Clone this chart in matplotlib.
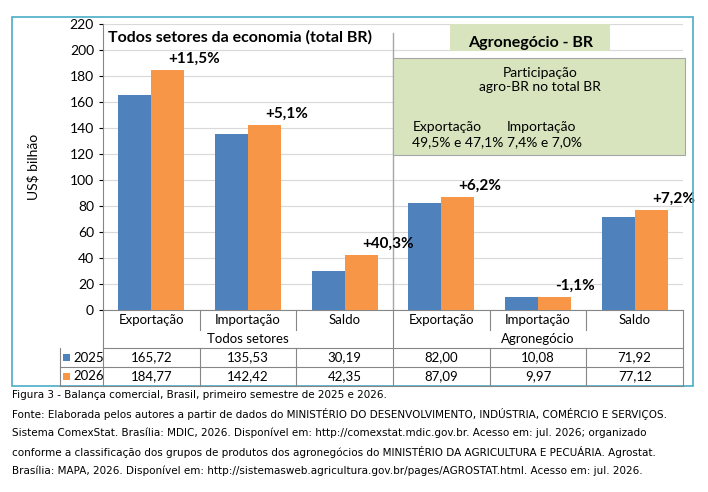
import numpy as np
import matplotlib.pyplot as plt
from matplotlib.patches import Rectangle

plt.rcParams['font.family'] = ['Lato', 'DejaVu Sans']

categories = ['Exportação', 'Importação', 'Saldo', 'Exportação', 'Importação', 'Saldo']
groups = ['Todos setores', 'Agronegócio']
v2025 = [165.72, 135.53, 30.19, 82.00, 10.08, 71.92]
v2026 = [184.77, 142.42, 42.35, 87.09, 9.97, 77.12]
variation = ['+11,5%', '+5,1%', '+40,3%', '+6,2%', '-1,1%', '+7,2%']
caption = [
    'Figura 3 - Balança comercial, Brasil, primeiro semestre de 2025 e 2026.',
    'Fonte: Elaborada pelos autores a partir de dados do MINISTÉRIO DO DESENVOLVIMENTO, INDÚSTRIA, COMÉRCIO E SERVIÇOS.',
    'Sistema ComexStat. Brasília: MDIC, 2026. Disponível em: http://comexstat.mdic.gov.br. Acesso em: jul. 2026; organizado',
    'conforme a classificação dos grupos de produtos dos agronegócios do MINISTÉRIO DA AGRICULTURA E PECUÁRIA. Agrostat.',
    'Brasília: MAPA, 2026. Disponível em: http://sistemasweb.agricultura.gov.br/pages/AGROSTAT.html. Acesso em: jul. 2026.',
]

W, H = 708, 492
blue = '#4F81BD'
orange = '#F79646'
green = '#D7E4BD'
fig = plt.figure(figsize=(W/100, H/100), dpi=100)

def fx(px): return px / W
def fy(py): return 1 - py / H

# outer frame
fig.patches.append(Rectangle((fx(12), fy(386)), fx(693)-fx(12), fy(17)-fy(386),
                             transform=fig.transFigure, fill=False, ec='#4BACC6', lw=1.2))

L, R, T, B = 103, 683, 24, 310
ax = fig.add_axes([fx(L), fy(B), fx(R)-fx(L), fy(T)-fy(B)])
x = np.arange(6) + 0.5
bw = 0.34
ax.bar(x - bw/2, v2025, bw, color=blue, zorder=3)
ax.bar(x + bw/2, v2026, bw, color=orange, zorder=3)
for xi, v, t in zip(x, v2026, variation):
    ax.text(xi + bw/2 + 0.01, v + 3, t, ha='left', va='bottom', fontsize=11, fontweight='bold', zorder=6)
ax.set_xlim(0, 6)
ax.set_ylim(0, 220)
ax.set_yticks(range(0, 221, 20))
ax.tick_params(axis='y', labelsize=10, length=3)
ax.set_xticks([])
ax.yaxis.grid(True, color='#D9D9D9', lw=0.8, zorder=0)
for s in ['top', 'right']:
    ax.spines[s].set_visible(False)
ax.spines['left'].set_color('#868686')
ax.spines['bottom'].set_color('#868686')
ax.set_ylabel('US$ bilhão', fontsize=10, labelpad=22)
ax.plot([3, 3], [0, 213], color='#A6A6A6', lw=1, zorder=2)

ax.text(0.05, 210, 'Todos setores da economia (total BR)', fontsize=11.5, fontweight='bold', va='center', zorder=5)
ax.add_patch(Rectangle((3.59, 199), 1.65, 21, fc=green, ec='none', zorder=4, clip_on=False))
ax.text(4.42, 205, 'Agronegócio - BR', ha='center', fontsize=11.5, fontweight='bold', va='center', zorder=5)
ax.add_patch(Rectangle((3.0, 119), 3.02, 75, fc=green, ec='#A6A6A6', lw=0.8, zorder=4, clip_on=False))
ax.text(4.52, 177, 'Participação\nagro-BR no total BR', ha='center', va='center', fontsize=10, zorder=5, linespacing=1.15)
ax.text(3.2, 135, 'Exportação\n49,5% e 47,1%', ha='left', va='center', fontsize=10, zorder=5, linespacing=1.3)
ax.text(4.18, 135, 'Importação\n7,4% e 7,0%', ha='left', va='center', fontsize=10, zorder=5, linespacing=1.3)

# data table below the axes
lc = '#868686'
colx = [L + i * (R - L) / 6 for i in range(7)]
def hline(x0, x1, y):
    fig.add_artist(plt.Line2D([fx(x0), fx(x1)], [fy(y), fy(y)], color=lc, lw=0.8))
def vline(xp, y0, y1):
    fig.add_artist(plt.Line2D([fx(xp), fx(xp)], [fy(y0), fy(y1)], color=lc, lw=0.8))
hline(L, R, 348)
hline(60, R, 367)
hline(60, R, 386)
vline(60, 348, 386)
for i, xp in enumerate(colx):
    if i in (0, 3, 6):
        vline(xp, 310, 386)
    else:
        vline(xp, 310, 330)
        vline(xp, 348, 386)
for i, c in enumerate(categories):
    cx = (colx[i] + colx[i+1]) / 2
    fig.text(fx(cx), fy(320), c, ha='center', va='center', fontsize=9.5)
    fig.text(fx(cx), fy(357.5), f'{v2025[i]:.2f}'.replace('.', ','), ha='center', va='center', fontsize=9.5)
    fig.text(fx(cx), fy(376.5), f'{v2026[i]:.2f}'.replace('.', ','), ha='center', va='center', fontsize=9.5)
for j, g in enumerate(groups):
    cx = (colx[3*j] + colx[3*j+3]) / 2
    fig.text(fx(cx), fy(339), g, ha='center', va='center', fontsize=9.5)
for yc, col, lab in [(357.5, blue, '2025'), (376.5, orange, '2026')]:
    fig.patches.append(Rectangle((fx(63), fy(yc + 3.5)), fx(7), fy(0) - fy(7), transform=fig.transFigure, fc=col, ec='none'))
    fig.text(fx(73), fy(yc), lab, ha='left', va='center', fontsize=9.5)

for k, line in enumerate(caption):
    fig.text(fx(12), fy(395 + k * 19), line, ha='left', va='center', fontsize=7.5,
             family=['DejaVu Sans'])

fig.savefig('out.png', dpi=100, facecolor='white')
